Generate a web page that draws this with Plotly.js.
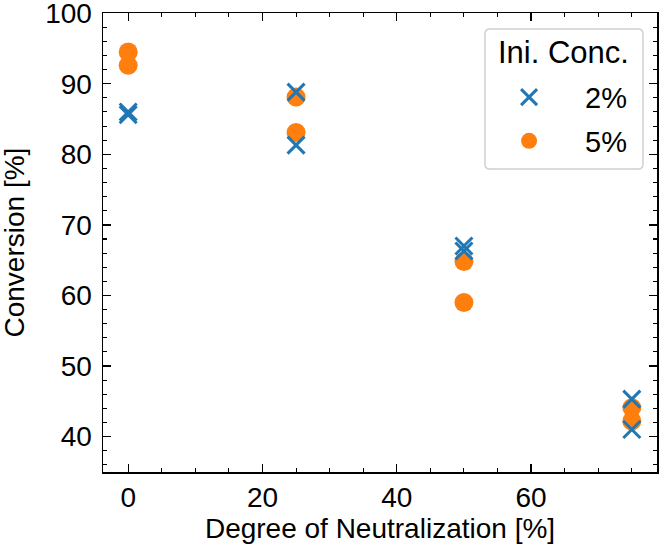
<!DOCTYPE html>
<html>
<head>
<meta charset="utf-8">
<script src="https://cdn.plot.ly/plotly-3.0.1.min.js"></script>
<style>
  html, body { margin: 0; padding: 0; background: #ffffff; }
  #chart { width: 661px; height: 553px; }
</style>
</head>
<body>
<div id="chart"></div>
<script>
// Degree of neutralization [%] for each run
const neutralization2 = [0, 0, 25, 25, 50, 50, 75, 75];
const neutralization5 = [0, 0, 25, 25, 50, 50, 75, 75];

// Conversion [%] at initial concentration 2 %
const conversion2 = [85.6, 86.0, 88.8, 81.3, 66.3, 67.0, 45.3, 41.0];
// Conversion [%] at initial concentration 5 %
const conversion5 = [94.5, 92.6, 88.1, 83.1, 64.8, 59.0, 44.1, 42.2];

const seriesNames = ['2%', '5%'];
const legendTitle = 'Ini. Conc.';
const xTitle = 'Degree of Neutralization [%]';
const yTitle = 'Conversion [%]';
const xTicks = [0, 20, 40, 60];
const yTicks = [40, 50, 60, 70, 80, 90, 100];

const FONT = '"Liberation Sans", Arial, Helvetica, sans-serif';

const traces = [
  {
    x: neutralization5, y: conversion5, name: seriesNames[1],
    type: 'scatter', mode: 'markers', legendrank: 2, legendgroup: 'c5',
    marker: { symbol: 'circle', size: 19, color: '#ff7f0e', line: { width: 0 } }
  },
  {
    x: neutralization2, y: conversion2, name: seriesNames[0],
    type: 'scatter', mode: 'markers', legendrank: 1, legendgroup: 'c2',
    marker: { symbol: 'x-thin', size: 17, color: '#1f77b4',
              line: { width: 3, color: '#1f77b4' } }
  }
];

const axisCommon = {
  showline: true, linecolor: '#000000', linewidth: 1.5, mirror: 'allticks',
  ticks: 'inside', ticklen: 8, tickwidth: 1.3, tickcolor: '#000000',
  showgrid: false, zeroline: false, ticklabeloverflow: 'allow',
  tickfont: { family: FONT, size: 28, color: '#000000' }
};

// Rounded frame behind the legend (paper coordinates)
function roundedRect(x0, y0, x1, y1, rx, ry) {
  return `M ${x0 + rx} ${y1} L ${x1 - rx} ${y1} Q ${x1} ${y1} ${x1} ${y1 - ry} ` +
         `L ${x1} ${y0 + ry} Q ${x1} ${y0} ${x1 - rx} ${y0} ` +
         `L ${x0 + rx} ${y0} Q ${x0} ${y0} ${x0} ${y0 + ry} ` +
         `L ${x0} ${y1 - ry} Q ${x0} ${y1} ${x0 + rx} ${y1} Z`;
}

const layout = {
  width: 661, height: 553,
  margin: { l: 103, r: 4, t: 13, b: 81 },
  paper_bgcolor: '#ffffff', plot_bgcolor: '#ffffff',
  font: { family: FONT, color: '#000000' },
  showlegend: true,
  xaxis: Object.assign({}, axisCommon, {
    range: [-3.75, 78.75], tickmode: 'array', tickvals: xTicks,
    ticklabelstandoff: 0,
    minor: { dtick: 5, ticks: 'inside', ticklen: 4, tickwidth: 1.1, tickcolor: '#000000', showgrid: false },
    title: { text: xTitle, font: { family: FONT, size: 28, color: '#000000' }, standoff: 4 }
  }),
  yaxis: Object.assign({}, axisCommon, {
    range: [34.98, 100.02], tickmode: 'array', tickvals: yTicks,
    ticklabelstandoff: 4,
    minor: { dtick: 2, ticks: 'inside', ticklen: 4, tickwidth: 1.1, tickcolor: '#000000', showgrid: false }
  }),
  shapes: [{
    type: 'path', xref: 'paper', yref: 'paper', layer: 'above',
    path: roundedRect(0.6895, 0.6601, 0.9747, 0.9651, 0.009, 0.011),
    fillcolor: 'rgba(255,255,255,0.8)', line: { color: '#d0d0d0', width: 1.5 }
  }],
  annotations: [
    {
      // y-axis title, set a little further out than the automatic placement
      text: yTitle, xref: 'paper', yref: 'paper', x: -0.1606, y: 0.5,
      xanchor: 'center', yanchor: 'middle', textangle: -90, showarrow: false,
      font: { family: FONT, size: 28, color: '#000000' }
    },
    {
      text: legendTitle, xref: 'paper', yref: 'paper', x: 0.831, y: 0.9129,
      xanchor: 'center', yanchor: 'middle', showarrow: false,
      font: { family: FONT, size: 31, color: '#000000' }
    }
  ],
  legend: {
    x: 0.668, y: 0.872, xanchor: 'left', yanchor: 'top',
    bgcolor: 'rgba(0,0,0,0)', borderwidth: 0,
    font: { family: FONT, size: 29, color: '#000000' },
    traceorder: 'grouped', tracegroupgap: 3,
    itemwidth: 102
  }
};

Plotly.newPlot('chart', traces, layout, { displayModeBar: false, staticPlot: true });
</script>
</body>
</html>
